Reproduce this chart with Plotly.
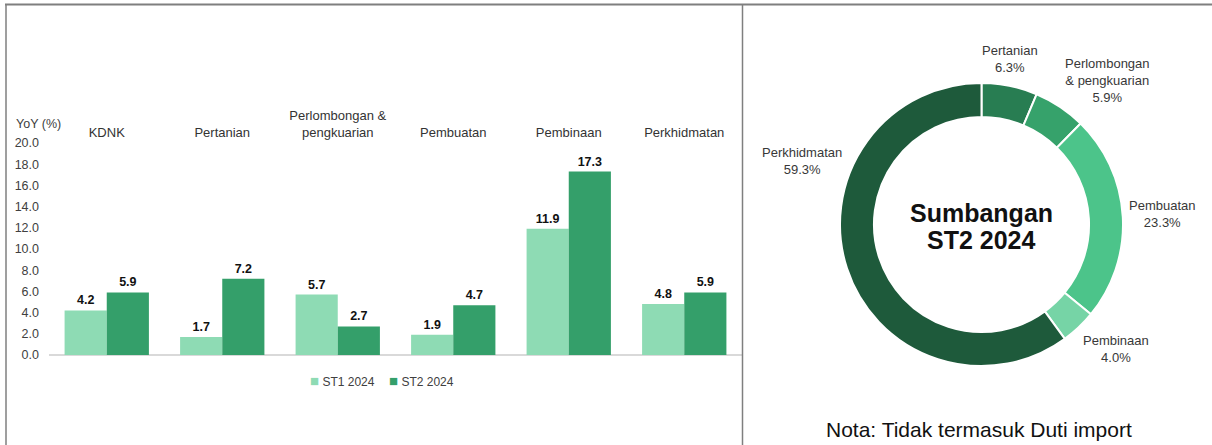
import plotly.graph_objects as go

# ---------------- data ----------------
categories = ["KDNK", "Pertanian", "Perlombongan &<br>pengkuarian", "Pembuatan", "Pembinaan", "Perkhidmatan"]
st1_2024 = [4.2, 1.7, 5.7, 1.9, 11.9, 4.8]
st2_2024 = [5.9, 7.2, 2.7, 4.7, 17.3, 5.9]
series_names = ["ST1 2024", "ST2 2024"]
y_ticks = [0, 2, 4, 6, 8, 10, 12, 14, 16, 18, 20]

pie_labels = ["Pertanian", "Perlombongan & pengkuarian", "Pembuatan", "Pembinaan", "Perkhidmatan"]
pie_label_text = ["Pertanian", "Perlombongan<br>& pengkuarian", "Pembuatan", "Pembinaan", "Perkhidmatan"]
pie_values = [6.3, 5.9, 23.3, 4.0, 59.3]

# ---------------- styles ----------------
W, H = 1212, 445
FONT = "Liberation Sans, Arial, sans-serif"
light_green = "#8EDBB4"
dark_green = "#349F6A"
series_colors = [light_green, dark_green]
pie_colors = ["#287D52", "#36A26B", "#4CC48A", "#76D4A6", "#1E5A3B"]


def px(x):
    return x / W


def py(y):
    return 1 - y / H


fig = go.Figure()

for name, vals, col in zip(series_names, [st1_2024, st2_2024], series_colors):
    fig.add_trace(go.Bar(
        x=categories, y=vals, name=name,
        marker=dict(color=col, line=dict(width=0)),
        texttemplate="%{y:.1f}", textposition="outside",
        textfont=dict(family=FONT, size=12.5, color="#111111", weight="bold"),
        cliponaxis=False, showlegend=False,
    ))

fig.add_trace(go.Pie(
    labels=pie_labels, values=pie_values, hole=0.76, sort=False,
    direction="clockwise", rotation=0,
    marker=dict(colors=pie_colors, line=dict(color="white", width=2)),
    textinfo="none", showlegend=False,
    domain=dict(x=[px(840), px(1123)], y=[py(366), py(83)]),
))

fig.update_layout(
    width=W, height=H, showlegend=False,
    margin=dict(l=0, r=0, t=0, b=0, autoexpand=False),
    paper_bgcolor="white", plot_bgcolor="white",
    font=dict(family=FONT, size=12.5, color="#404040"),
    barmode="group", bargap=0.27, bargroupgap=0,
    xaxis=dict(
        domain=[px(49), px(742)], side="top", showline=False, showgrid=False,
        ticks="", tickfont=dict(size=13, color="#333333"), ticklabelstandoff=2,
        fixedrange=True,
    ),
    yaxis=dict(
        domain=[py(355), py(143)], range=[0, 20], tickvals=y_ticks,
        tickformat=".1f", showgrid=False, showline=False,
        zeroline=True, zerolinecolor="#D9D9D9", zerolinewidth=1.5,
        ticks="", ticklabelstandoff=9, tickfont=dict(size=12.5, color="#404040"),
        fixedrange=True,
    ),
)

annotations = [
    dict(text="YoY (%)", x=px(14), y=py(124), xanchor="left", yanchor="middle",
         font=dict(size=12.5, color="#404040")),
    dict(text="<b>Sumbangan</b>", x=px(981), y=py(213), xanchor="center", yanchor="middle",
         font=dict(size=25, color="#111111")),
    dict(text="<b>ST2 2024</b>", x=px(981), y=py(240), xanchor="center", yanchor="middle",
         font=dict(size=25, color="#111111")),
    dict(text="Nota: Tidak termasuk Duti import", x=px(979), y=py(429), xanchor="center",
         yanchor="middle", font=dict(size=21, color="#111111")),
]

# legend (small square + label)
legend_x = [308, 387]
for name, col, lx in zip(series_names, series_colors, legend_x):
    annotations.append(dict(
        text=f"<span style='color:{col};font-size:15px'>■</span> {name}",
        x=px(lx), y=py(380), xanchor="left", yanchor="middle",
        font=dict(size=12, color="#404040"),
    ))

# pie label positions (pixel centres of label blocks)
pie_label_pos = [(1010, 59), (1107, 81), (1162, 214), (1116, 349), (802, 161)]
for lab, val, (lx, ly) in zip(pie_label_text, pie_values, pie_label_pos):
    annotations.append(dict(
        text=f"{lab}<br>{val:.1f}%", x=px(lx), y=py(ly), xanchor="center", yanchor="middle",
        font=dict(size=13, color="#383838"), align="center",
    ))

for a in annotations:
    a.update(xref="paper", yref="paper", showarrow=False)
fig.update_layout(annotations=annotations)

# panel border lines
line_col = "#7F7F7F"
shapes = [
    dict(type="line", x0=px(5), x1=1, y0=py(4.5), y1=py(4.5), line=dict(color=line_col, width=2)),
    dict(type="line", x0=px(6), x1=px(6), y0=py(4), y1=0, line=dict(color=line_col, width=1.5)),
    dict(type="line", x0=px(742.5), x1=px(742.5), y0=py(4), y1=0, line=dict(color=line_col, width=1.5)),
]
for s in shapes:
    s.update(xref="paper", yref="paper", layer="above")
fig.update_layout(shapes=shapes)

fig.write_html(
    "out.html",
    config={"displayModeBar": False},
    post_script="document.body.style.margin='0';document.body.style.overflow='hidden';",
)
